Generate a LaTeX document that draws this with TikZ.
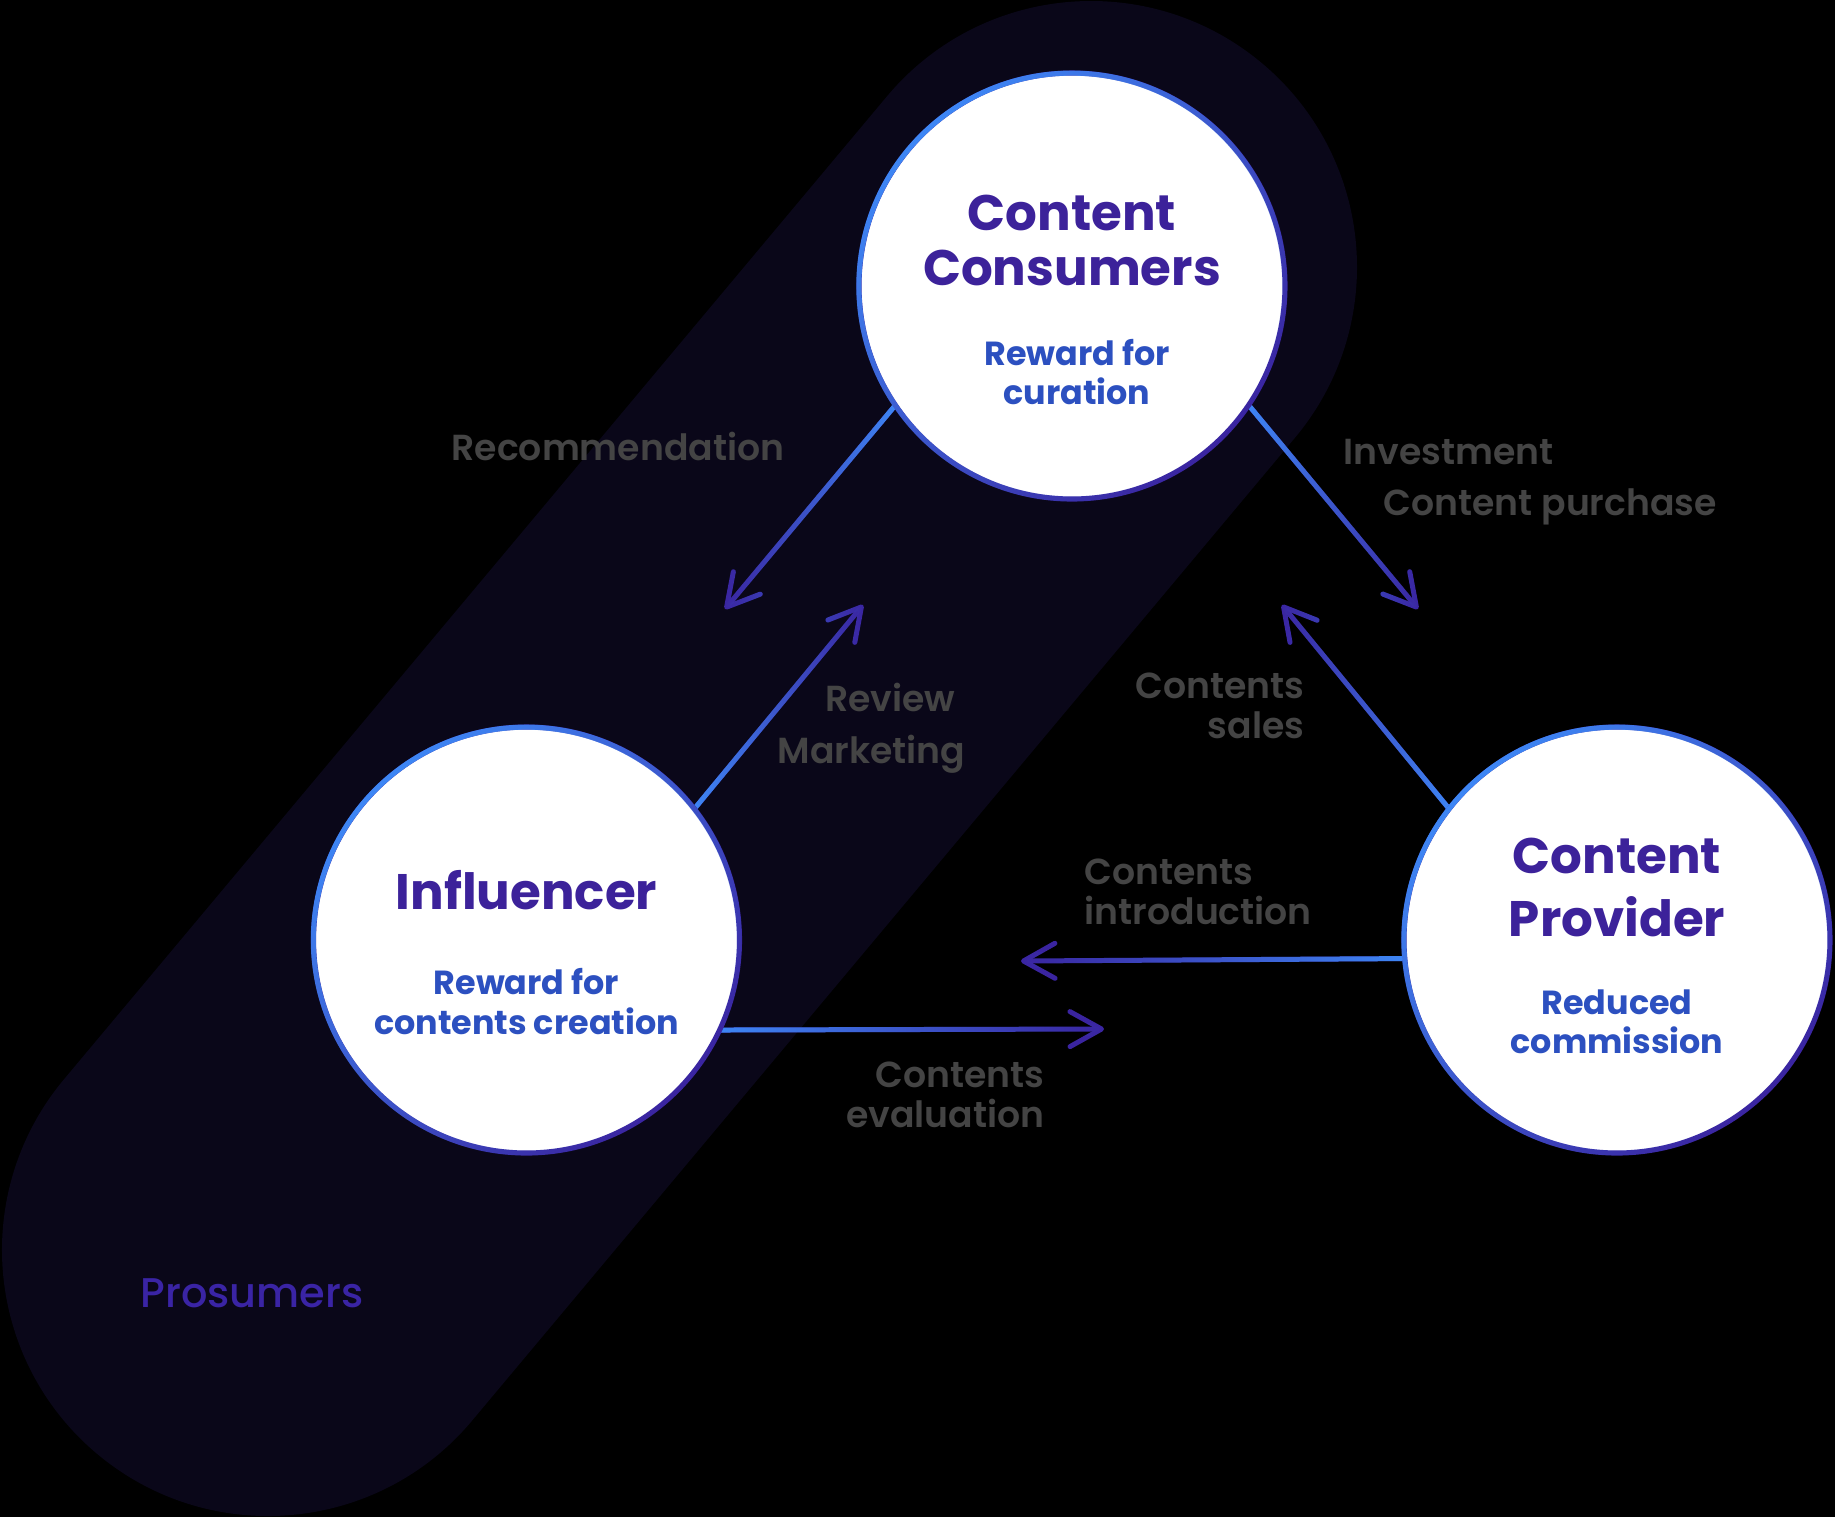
\documentclass[tikz,border=0pt]{standalone}
\usepackage{fontspec}
\setmainfont{Poppins}
\newfontfamily\popsemi{Poppins SemiBold}
\newfontfamily\popmed{Poppins Medium}
\usepackage{tikz}
\usetikzlibrary{arrows.meta, positioning, backgrounds, fadings}

\definecolor{bandc}{RGB}{10,7,25}
\definecolor{ttlc}{RGB}{60,34,154}
\definecolor{subc}{RGB}{44,80,192}
\definecolor{grayc}{RGB}{68,68,68}
\definecolor{prosc}{RGB}{58,36,165}
\definecolor{lineb}{RGB}{62,135,245}
\definecolor{linep}{RGB}{58,36,160}

\tikzfading[name=lightfade, left color=transparent!0, right color=transparent!100]

\begin{document}
\begin{tikzpicture}[
    % styles
    actor/.style = {circle, fill=white, draw=linep, line width=1.45pt,
                    minimum size=4.26cm, inner sep=0pt, outer sep=0pt,
                    postaction={draw=lineb, line width=1.45pt,
                                path fading=lightfade, fading angle=-45}},
    ttl/.style   = {text=ttlc, align=center, inner sep=0pt,
                    font=\fontsize{14.2pt}{15.4pt}\selectfont\bfseries},
    sub/.style   = {text=subc, align=center, inner sep=0pt,
                    font=\fontsize{9.5pt}{11.2pt}\selectfont\bfseries},
    lbl/.style   = {text=grayc, inner sep=0pt,
                    font=\fontsize{10.3pt}{11.2pt}\selectfont\popsemi},
    pros/.style  = {text=prosc, inner sep=0pt,
                    font=\fontsize{11.8pt}{14pt}\selectfont\popmed},
    band/.style  = {draw=bandc, line width=5.32cm, line cap=round},
    flow/.style  = {draw=linep, line width=1.42pt, line cap=round,
                    -{Straight Barb[round, length=3.15mm, width=3.5mm]}},
    flowr/.style = {flow, postaction={draw=lineb, line width=1.42pt,
                                      path fading=lightfade}},
    flowl/.style = {flow, postaction={draw=lineb, line width=1.42pt,
                                      path fading=lightfade, fading angle=180}},
]
\useasboundingbox (0,0) rectangle (18.35,-15.17);

% ── Actors ───────────────────────────────────────────────────────────────────
\node[actor] (cons) at (10.72,-2.86) {};
\node[actor] (infl) at (5.265,-9.40) {};
\node[actor] (prov) at (16.17,-9.40) {};

\node[ttl] (cons_t) at ([yshift=4.55mm]cons.center) {Content\\Consumers};
\node[sub] (cons_s) at ([xshift=0.5mm, yshift=-8.6mm]cons.center) {Reward for\\curation};

\node[ttl, anchor=base] (infl_t) at ([yshift=3.1mm]infl.center) {Influencer};
\node[sub] (infl_s) at ([yshift=-6.15mm]infl.center) {Reward for\\contents creation};

\node[ttl] (prov_t) at ([yshift=5.25mm]prov.center) {Content\\[2.3pt]Provider};
\node[sub] (prov_s) at ([yshift=-8.15mm]prov.center) {Reduced\\commission};

% ── Arrow ends ───────────────────────────────────────────────────────────────
\coordinate (tip_rec)   at (7.25,-6.09);
\coordinate (tip_rev)   at (8.63,-6.05);
\coordinate (tip_inv)   at (14.18,-6.09);
\coordinate (tip_sal)   at (12.82,-6.05);
\coordinate (tip_intro) at (10.21,-9.61);
\coordinate (tip_eval)  at (11.04,-10.29);

% ── Labels ───────────────────────────────────────────────────────────────────
\node[lbl, anchor=base]      (l_rec) at (6.18,-4.60)   {Recommendation};
\node[lbl, anchor=base west] (l_inv) at (13.43,-4.64)  {Investment};
\node[lbl, anchor=base west] (l_pur) at (13.83,-5.15)  {Content purchase};
\node[lbl, anchor=base east] (l_rev) at (9.56,-7.11)   {Review};
\node[lbl, anchor=base east] (l_mkt) at (9.66,-7.63)   {Marketing};
\node[lbl, anchor=base east, align=right] (l_sal) at (13.05,-7.38)  {Contents\\sales};
\node[lbl, anchor=base west, align=left]  (l_int) at (10.84,-9.24)  {Contents\\introduction};
\node[lbl, anchor=base east, align=right] (l_eva) at (10.45,-11.27) {Contents\\evaluation};

\node[pros, anchor=base west] (l_pros) at (1.40,-13.07) {Prosumers};

% ── Background, band and flows ───────────────────────────────────────────────
\begin{scope}[on background layer]
  \fill[black] (0,0) rectangle (18.35,-15.17);
  \coordinate (band_lo) at (2.68,-12.50);
  \coordinate (band_hi) at (10.91,-2.67);
  \draw[band] (band_lo) -- (band_hi);

  \draw[flowl] (cons.214)   -- (tip_rec);
  \draw[flowr] (infl.38)    -- (tip_rev);
  \draw[flowr] (cons.326)   -- (tip_inv);
  \draw[flowl] (prov.142)   -- (tip_sal);
  \draw[flowl] (prov.185.7) -- (tip_intro);
  \draw[flowr] (infl.335.3) -- (tip_eval);
\end{scope}

\end{tikzpicture}
\end{document}
